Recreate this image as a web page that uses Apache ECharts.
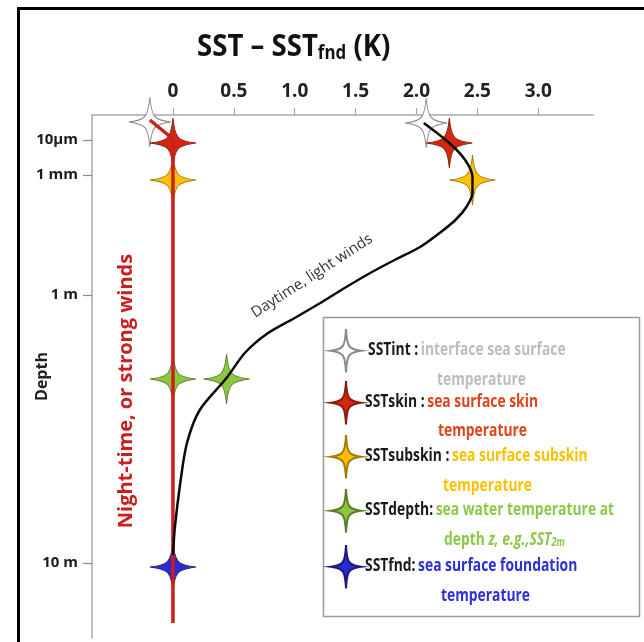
<!DOCTYPE html>
<html>
<head>
<meta charset="utf-8">
<script src="https://cdn.jsdelivr.net/npm/echarts@6/dist/echarts.min.js"></script>
<style>
html,body{margin:0;padding:0;background:#fff;}
#chart{width:644px;height:642px;}
</style>
</head>
<body>
<div id="chart"></div>
<script>
// ---- data ----
var xTickValues = [0, 0.5, 1.0, 1.5, 2.0, 2.5, 3.0];
var xTickLabels = ['0', '0.5', '1.0', '1.5', '2.0', '2.5', '3.0'];
var depthTickPos = [25, 60, 180, 448];            // schematic depth positions
var depthTickLabels = ['10\u00b5m', '1 mm', '1 m', '10 m'];

var levelNames = ['SSTint', 'SSTskin', 'SSTsubskin', 'SSTdepth', 'SSTfnd'];
var levelDepth = [7, 28, 65, 264, 452];
var nightValues = [-0.19, 0, 0, 0, 0];
var dayValues = [2.08, 2.27, 2.46, 0.44, null];
var dayDepth = [8, 28, 65, 264, null];

var nightProfileX = [-0.19, 0, 0];
var nightProfileY = [5, 24, 508];
var dayProfileX = [2.06, 2.27, 2.40, 2.46, 2.46, 2.41, 2.32, 2.19, 2.03, 1.82, 1.62, 1.41, 1.21, 1.0, 0.77, 0.59, 0.44, 0.22, 0.115, 0.06, 0.016, 0];
var dayProfileY = [8, 28, 45, 62, 78, 92, 105, 118, 132, 145, 158, 173, 188, 203, 219, 238, 263, 295, 328, 368, 412, 440];

var legendKeys = ['SSTint :', 'SSTskin :', 'SSTsubskin :', 'SSTdepth:', 'SSTfnd:'];
var legendDesc1 = ['interface sea surface', 'sea surface skin', 'sea surface subskin', 'sea water temperature at', 'sea surface foundation'];
var legendDesc2 = ['temperature', 'temperature', 'temperature', null, 'temperature'];

// ---- styles ----
var starFill = ['#ffffff', '#d5260f', '#ffc107', '#8dc63f', '#2b2bd2'];
var starStroke = ['#8a8a8a', '#8a1c0c', '#a57c00', '#5b7e26', '#1a1a80'];
var textColor = ['#bdbdbd', '#e0461e', '#ffc000', '#8cc84b', '#2f2fd8'];
var STAR = 'M0,-1 C0.08,-0.2 0.2,-0.08 1,0 C0.2,0.08 0.08,0.2 0,1 C-0.08,0.2 -0.2,0.08 -1,0 C-0.2,-0.08 -0.08,-0.2 0,-1 Z';
var STAR_TALL = 'M0,-1.45 C0.06,-0.29 0.16,-0.1 1,0 C0.16,0.1 0.06,0.29 0,1.45 C-0.06,0.29 -0.16,0.1 -1,0 C-0.16,-0.1 -0.06,-0.29 0,-1.45 Z';
var FONT = "'Open Sans',sans-serif";

function zip(xs, ys) { return xs.map(function (x, i) { return [x, ys[i]]; }); }

var starSeries = levelNames.map(function (name, i) {
  var pts = [[nightValues[i], levelDepth[i]]];
  if (dayValues[i] !== null) pts.push([dayValues[i], dayDepth[i]]);
  return {
    name: name, type: 'scatter', z: 2,
    symbol: 'path://' + STAR,
    symbolSize: i === 0 ? [42, 50] : [46, 50],
    itemStyle: { color: starFill[i], borderColor: starStroke[i], borderWidth: 1, opacity: 1 },
    data: pts, silent: true
  };
});

var legIconY = [350, 402, 456, 510, 566];
var legKeyX = [368, 365, 365, 365, 365];
var legLine2X = [437, 438, 443, 444, 441];
var legLine2Y = [377, 428, 483, 537, 593];
var LEG_SCALE = 0.77;

var legends = levelNames.map(function (n, i) {
  return {
    data: [n], left: 330, top: legIconY[i] - 22, padding: 0,
    itemWidth: 30, itemHeight: 44, icon: 'path://' + STAR_TALL,
    formatter: function () { return ''; }, selectedMode: false, z: 12
  };
});

var legendGraphics = [{
  type: 'rect', shape: { x: 323.5, y: 317.5, width: 316, height: 299 },
  style: { fill: '#fff', stroke: '#9a9a9a', lineWidth: 1.5 }, z: 10, silent: true
}];
levelNames.forEach(function (n, i) {
  legendGraphics.push({
    type: 'text', z: 11, x: legKeyX[i], y: legIconY[i], scaleX: LEG_SCALE,
    style: {
      text: '{k|' + legendKeys[i] + '} {d|' + legendDesc1[i] + '}',
      verticalAlign: 'middle', align: 'left',
      rich: {
        k: { fontFamily: FONT, fontWeight: 'bold', fontSize: 18, fill: '#1a1a1a' },
        d: { fontFamily: FONT, fontWeight: 'bold', fontSize: 18, fill: textColor[i] }
      }
    }
  });
  var line2 = legendDesc2[i] !== null
    ? '{d|' + legendDesc2[i] + '}'
    : '{d|depth }{i|z, e.g.,SST}{s|2m}';
  legendGraphics.push({
    type: 'text', z: 11, x: legLine2X[i], y: legLine2Y[i], scaleX: LEG_SCALE,
    style: {
      text: line2, verticalAlign: 'middle', align: 'left',
      rich: {
        d: { fontFamily: FONT, fontWeight: 'bold', fontSize: 18, fill: textColor[i], verticalAlign: 'bottom', lineHeight: 24 },
        i: { fontFamily: FONT, fontWeight: 'bold', fontStyle: 'italic', fontSize: 18, fill: textColor[i], verticalAlign: 'bottom', lineHeight: 24 },
        s: { fontFamily: FONT, fontWeight: 'bold', fontStyle: 'italic', fontSize: 12, fill: textColor[i], verticalAlign: 'bottom', lineHeight: 14 }
      }
    }
  });
});

var chart = echarts.init(document.getElementById('chart'), null, { renderer: 'canvas' });
chart.setOption({
  backgroundColor: '#fff',
  animation: false,
  legend: legends,
  grid: { left: 92, right: 51, top: 115, bottom: 4, containLabel: false },
  xAxis: {
    type: 'value', position: 'top', min: -0.665, max: 3.45,
    axisLine: { show: true, onZero: false, lineStyle: { color: '#a8a8a8', width: 1.5 } },
    axisTick: { show: true, customValues: xTickValues, length: 7, lineStyle: { color: '#a8a8a8', width: 1.2 } },
    axisLabel: {
      customValues: xTickValues, margin: 14,
      fontFamily: FONT, fontWeight: 'bold', fontSize: 19, color: '#222',
      formatter: function (v) { var k = xTickValues.indexOf(v); return k >= 0 ? xTickLabels[k] : ''; }
    },
    splitLine: { show: false }
  },
  yAxis: {
    type: 'value', inverse: true, min: 0, max: 523,
    name: 'Depth', nameLocation: 'middle', nameRotate: 90, nameGap: 42, nameMoveOverlap: false,
    nameTextStyle: { fontFamily: FONT, fontWeight: 'bold', fontSize: 16, color: '#222' },
    axisLine: { show: true, onZero: false, lineStyle: { color: '#a8a8a8', width: 1.5 } },
    axisTick: { show: true, customValues: depthTickPos, length: 9, lineStyle: { color: '#888', width: 1.2 } },
    axisLabel: {
      customValues: depthTickPos, margin: 14,
      fontFamily: FONT, fontWeight: 'bold', fontSize: 15, color: '#1a1a1a',
      formatter: function (v) { var k = depthTickPos.indexOf(v); return k >= 0 ? depthTickLabels[k] : ''; }
    },
    splitLine: { show: false }
  },
  series: starSeries.concat([
    {
      name: 'Night-time profile', type: 'line', z: 3, symbol: 'none', silent: true,
      lineStyle: { color: '#cc1f1a', width: 3.5 },
      data: zip(nightProfileX, nightProfileY)
    },
    {
      name: 'Daytime profile', type: 'line', z: 3, symbol: 'none', silent: true, smooth: 0.3,
      lineStyle: { color: '#0a0a0a', width: 2.5 },
      data: zip(dayProfileX, dayProfileY)
    }
  ]),
  graphic: [
    { type: 'rect', shape: { x: 18.5, y: 8.5, width: 700, height: 700 }, style: { fill: 'none', stroke: '#000', lineWidth: 3 }, z: 20, silent: true },
    {
      type: 'text', x: 197, y: 45, scaleX: 0.89, z: 5,
      style: {
        text: '{a|SST \u2013 SST}{s|fnd}{a| (K)}', align: 'left', verticalAlign: 'middle',
        rich: {
          a: { fontFamily: FONT, fontWeight: 'bold', fontSize: 31, fill: '#111', lineHeight: 36, verticalAlign: 'bottom' },
          s: { fontFamily: FONT, fontWeight: 'bold', fontSize: 19, fill: '#111', lineHeight: 20, verticalAlign: 'bottom' }
        }
      }
    },
    {
      type: 'text', x: 126, y: 391, rotation: Math.PI / 2, z: 5,
      style: { text: 'Night-time, or strong winds', align: 'center', verticalAlign: 'middle',
        fontFamily: FONT, fontWeight: 'bold', fontSize: 20, fill: '#c8201e' }
    },
    {
      type: 'text', x: 312, y: 276, rotation: 33 * Math.PI / 180, z: 5,
      style: { text: 'Daytime, light winds', align: 'center', verticalAlign: 'middle',
        fontFamily: FONT, fontSize: 15, fill: '#333' }
    }
  ].concat(legendGraphics)
});
</script>
</body>
</html>
